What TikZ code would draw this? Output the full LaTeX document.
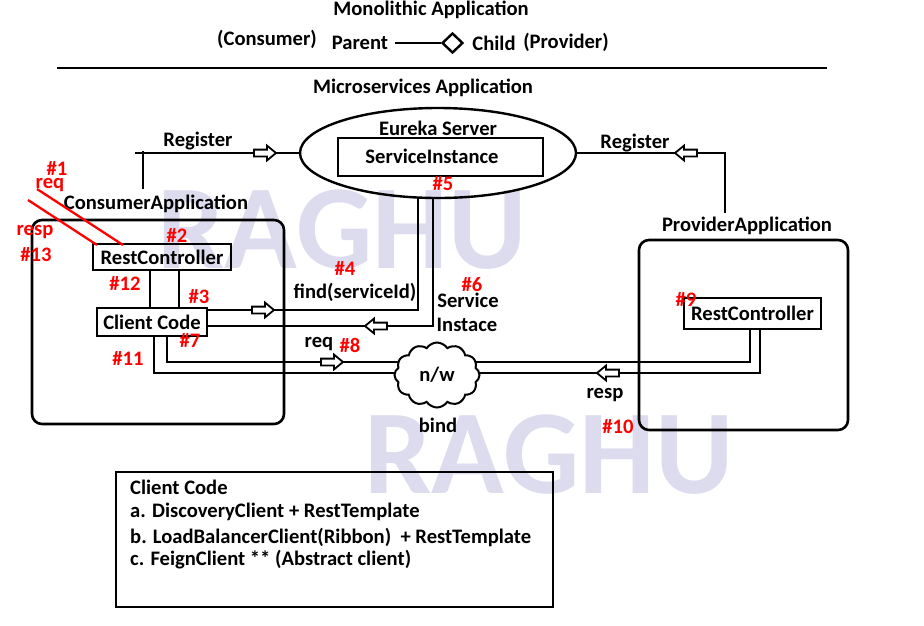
\documentclass[tikz,border=0pt]{standalone}
\usepackage{fontspec}
\setmainfont{Carlito}
\usetikzlibrary{shapes.geometric,shapes.symbols}
\definecolor{wm}{RGB}{221,219,238}
\tikzset{
  harrow/.pic={\draw[line width=1.8pt, fill=white, line join=miter] (-11,-3.4) -- (2,-3.4) -- (2,-7.4) -- (11,0) -- (2,7.4) -- (2,3.4) -- (-11,3.4) -- cycle;},
  ln/.style={line width=2.6pt},
  redln/.style={line width=2.3pt, draw=red},
  tag/.style={text=red},
  boxr/.style={draw, line width=2.6pt, rounded corners=10pt},
  boxs/.style={draw, line width=2.5pt},
  wmtext/.style={font=\bfseries\fontsize{120}{120}\selectfont, text=wm, anchor=base west}
}
\begin{document}
\begin{tikzpicture}[x=1pt,y=-1pt,
  every node/.style={font=\bfseries\fontsize{20.6}{24}\selectfont, inner sep=0pt}]
\useasboundingbox (0,0) rectangle (924,625);
% watermarks
\node[wmtext] (wm1) at (157,268) {RAGHU};
\node[wmtext] (wm2) at (364,493) {RAGHU};

% top section
\node (mono) at (431,10) {Monolithic Application};
\node (cons) at (267,39) {(Consumer)};
\node (parent) at (360,43) {Parent};
\node[diamond, draw, line width=2.4pt, minimum width=21pt, minimum height=20pt, aspect=1.05] (dia) at (452.5,43) {};
\coordinate (pl) at (395,43);
\draw[ln] (pl) -- (dia.west);
\node (child) at (494,43) {Child};
\node (prov) at (566,42) {(Provider)};
\coordinate (hr1) at (57,68);
\coordinate (hr2) at (827,68);
\draw[ln] (hr1) -- (hr2);
\node (micro) at (423,88) {Microservices Application};

% Eureka
\node[ellipse, draw, line width=2.4pt, minimum width=276pt, minimum height=90pt] (eureka) at (438,153) {};
\node (eurekat) at (438,128) {Eureka Server};
\node[boxs, minimum width=205pt, minimum height=38pt] (si) at (440.5,157) {};
\node (sit) at (432,156) {ServiceInstance};
\node[tag] (t5) at (443,184) {\#5};

% consumer
\node (consapp) at (156,204) {ConsumerApplication};
\node[boxr, minimum width=252pt, minimum height=204pt] (consumer) at (158,322) {};
\node[boxs, minimum width=138pt, minimum height=26pt] (crc) at (162,257) {RestController};
\node[boxs, minimum width=110pt, minimum height=28pt] (cc) at (152,322) {Client Code};

% provider
\node (provapp) at (747,226) {ProviderApplication};
\node[boxr, minimum width=209pt, minimum height=190pt] (provider) at (743.5,335) {};
\node[boxs, minimum width=137pt, minimum height=31pt] (prc) at (752.5,313.5) {RestController};

% register left
\coordinate (regLa) at (135,153);
\coordinate (regLt) at (143,151);
\coordinate (regLb) at (143,189);
\draw[ln] (regLa) -- (regLa -| eureka.west);
\draw[ln] (regLt) -- (regLb);
\pic at (265,153) {harrow};
\node (reg1) at (198,141) {Register};

% register right
\coordinate (regR) at (725,213);
\draw[ln] (eureka.east) -- (eureka.east -| regR) -- (regR);
\pic[rotate=180] at (686,153) {harrow};
\node (reg2) at (635,143) {Register};

% restcontroller -> client code
\coordinate (v1) at (150,0);
\coordinate (v2) at (179,0);
\draw[ln] (crc.south -| v1) -- (cc.north -| v1);
\draw[ln] (crc.south -| v2) -- (cc.north -| v2);

% find
\coordinate (f1) at (418,310);
\coordinate (f2) at (418,198);
\draw[ln] (cc.east |- f1) -- (f1) -- (f2);
\pic at (263,310) {harrow};
\node (find) at (355,292) {find(serviceId)};

% service instance back
\coordinate (s1) at (433,198);
\coordinate (s2) at (433,326);
\draw[ln] (s1) -- (s2) -- (cc.east |- s2);
\pic[rotate=180] at (376,326) {harrow};
\node (svc) at (468,300) {Service};
\node (inst) at (467,325) {Instace};

% req
\coordinate (q1) at (167,362);
\coordinate (q2) at (750,362);
\draw[ln] (cc.south -| q1) -- (q1) -- (q2) -- (prc.south -| q2);
\pic at (332,362) {harrow};
\node (reqt) at (319,344) {req};

% resp
\coordinate (p1) at (760,373);
\coordinate (p2) at (154,373);
\draw[ln] (prc.south -| p1) -- (p1) -- (p2) -- (cc.south -| p2);
\pic[rotate=180] at (608,373) {harrow};
\node (respt) at (605,395) {resp};

% cloud
\node[cloud, draw, fill=white, line width=2pt, cloud puffs=12, cloud puff arc=115, aspect=1.3, minimum width=85pt, minimum height=65pt] (nw) at (437,375) {n/w};
\node (bind) at (438,425) {bind};

% red request/response lines
\coordinate (r1a) at (37,189);
\coordinate (r1b) at (123,245);
\coordinate (r2a) at (28,200);
\coordinate (r2b) at (97,245);
\draw[redln] (r1a) -- (r1b);
\draw[redln] (r2a) -- (r2b);

% red tags
\node[tag] (t1) at (57,168) {\#1};
\node[tag] (treq) at (50,185) {req};
\node[tag] (tresp) at (35,232) {resp};
\node[tag] (t13) at (36,255) {\#13};
\node[tag] (t2) at (177,235) {\#2};
\node[tag] (t12) at (125,283) {\#12};
\node[tag] (t3) at (199,297) {\#3};
\node[tag] (t7) at (190,340) {\#7};
\node[tag] (t11) at (128,358) {\#11};
\node[tag] (t4) at (345,268) {\#4};
\node[tag] (t6) at (472,285) {\#6};
\node[tag] (t8) at (350,345) {\#8};
\node[tag] (t9) at (686,299) {\#9};
\node[tag] (t10) at (618,427) {\#10};

% bottom box
\node[boxs, line width=2.4pt, minimum width=437pt, minimum height=135pt] (cbox) at (334.5,539.5) {};
\node[anchor=west] (l0) at (130,487) {Client Code};
\node[anchor=west] (l1) at (130,512) {a. DiscoveryClient + RestTemplate};
\node[anchor=west] (l2) at (130,537) {b. LoadBalancerClient(Ribbon)\ \ + RestTemplate};
\node[anchor=west] (l3) at (130,560) {c. FeignClient ** (Abstract client)};
\end{tikzpicture}
\end{document}
